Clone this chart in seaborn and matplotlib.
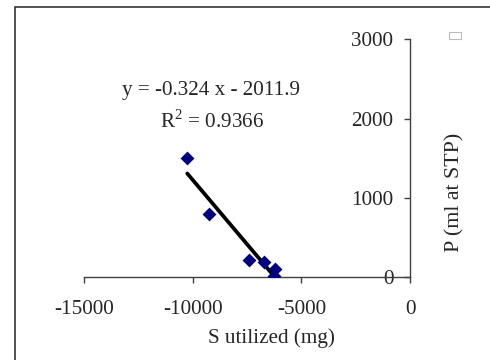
import matplotlib
matplotlib.use("Agg")
import matplotlib.pyplot as plt
import seaborn as sns
import numpy as np
import pandas as pd
from matplotlib.patches import Rectangle

# data
s_utilized = [-10250, -9260, -7390, -6700, -6210, -6260]
p_stp = [1500, 800, 218, 197, 109, 16]
slope = -0.324
intercept = -2011.9
r2 = 0.9366
x_ticks = [-15000, -10000, -5000, 0]
y_ticks = [0, 1000, 2000, 3000]

sns.set_theme(style="white")
plt.rcParams['font.family'] = ['Liberation Serif', 'DejaVu Serif']
plt.rcParams['mathtext.fontset'] = 'custom'
plt.rcParams['mathtext.rm'] = 'Liberation Serif'

FS = 15.2

fig = plt.figure(figsize=(4.9, 3.6), dpi=100)
ax = fig.add_axes([84/490, 1-277.3/360, (410-84)/490, (277.3-39.3)/360])

df = pd.DataFrame({"x": s_utilized, "y": p_stp})
xf = np.array([min(s_utilized), max(s_utilized)])
fit = pd.DataFrame({"x": xf, "y": slope * xf + intercept})
sns.lineplot(data=fit, x="x", y="y", ax=ax, color="black", linewidth=2.7, zorder=2)
sns.scatterplot(data=df, x="x", y="y", ax=ax, marker="D", s=50, color="#000080",
                edgecolor="#000080", linewidth=0, zorder=3)

ax.set_xlim(-15000, 0)
ax.set_ylim(0, 3000)
ax.set_xticks(x_ticks)
ax.set_yticks(y_ticks)
ax.set_xticklabels([str(v) for v in x_ticks])
ax.set_yticklabels([str(v) for v in y_ticks])

for s in ["top", "right"]:
    ax.spines[s].set_visible(False)
ax.spines["left"].set_position(("data", 0))
for s in ["left", "bottom"]:
    ax.spines[s].set_color("#404040")
    ax.spines[s].set_linewidth(1.0)

ax.tick_params(axis="x", direction="out", length=4.5, width=1, color="#404040",
               labelsize=FS, pad=12, bottom=True)
ax.tick_params(axis="y", direction="out", length=4, width=1, color="#404040",
               labelsize=FS, pad=8, left=True)

ax.set_xlabel("S utilized (mg)", fontsize=FS)
ax.set_ylabel("P (ml at STP)", fontsize=FS + 0.6)
ax.xaxis.set_label_coords((271-84)/(410-84), -(338-277.3)/(277.3-39.3))
ax.yaxis.set_label_coords((455-84)/(410-84), (277.3-192)/(277.3-39.3))
ax.xaxis.label.set_verticalalignment("center")
ax.yaxis.label.set_verticalalignment("center")

ax.text((211-84)/(410-84), (277.3-91)/(277.3-39.3),
        f"y = {slope} x - {abs(intercept)}", transform=ax.transAxes,
        ha="center", va="center", fontsize=FS)
ax.text((212-84)/(410-84), (277.3-121)/(277.3-39.3),
        f"R$^2$ = {r2}", transform=ax.transAxes,
        ha="center", va="center", fontsize=FS)

# outer chart frame (cropped) and legend remnant
fig.add_artist(Rectangle((15/490, -0.1), 1.2, 1-7/360+0.1, transform=fig.transFigure,
                         fill=False, edgecolor="#333333", linewidth=1.2))
fig.add_artist(Rectangle((449/490, 1-39/360), 12/490, 7/360, transform=fig.transFigure,
                         fill=False, edgecolor="#bbbbbb", linewidth=0.8))

fig.savefig("out.png", dpi=100)
